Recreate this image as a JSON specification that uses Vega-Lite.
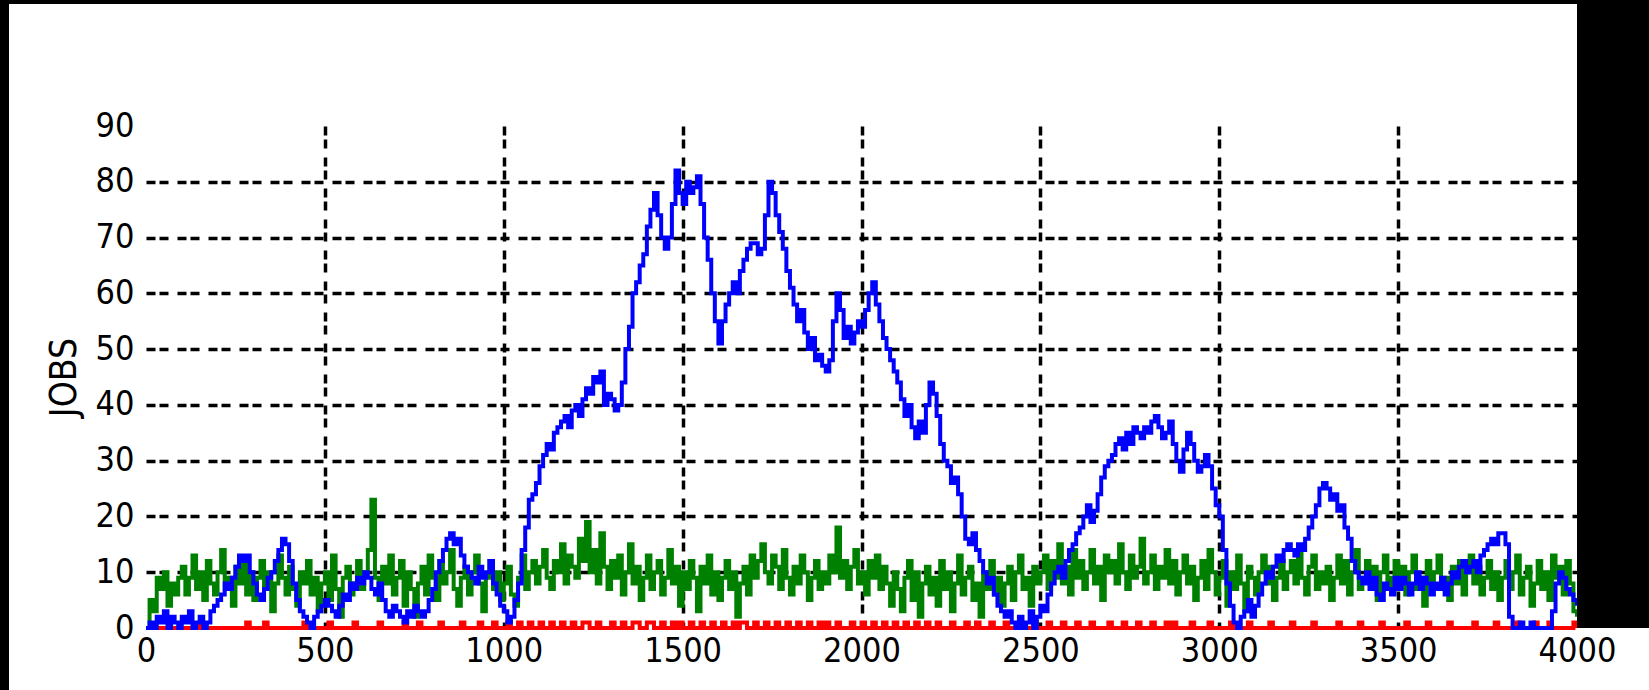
{
"$schema":"https://vega.github.io/schema/vega-lite/v6.json",
"width":1431,"height":502,
"autosize":"none",
"padding":{"left":146,"top":126,"right":72,"bottom":62},
"background":"white",
"config":{"view":{"stroke":null}},
"resolve":{"axis":{"x":"independent","y":"independent"}},
"data":{"values":[
{"t":0,"r":0,"g":0,"b":0},{"t":10,"r":0,"g":5,"b":1},{"t":20,"r":0,"g":3,"b":0},{"t":30,"r":0,"g":9,"b":2},{"t":40,"r":0,"g":7,"b":1},{"t":50,"r":0,"g":10,"b":3},{"t":60,"r":0,"g":4,"b":0},{"t":70,"r":0,"g":8,"b":2},{"t":80,"r":0,"g":6,"b":1},{"t":90,"r":0,"g":9,"b":0},
{"t":100,"r":0,"g":11,"b":2},{"t":110,"r":0,"g":6,"b":1},{"t":120,"r":0,"g":9,"b":3},{"t":130,"r":0,"g":13,"b":0},{"t":140,"r":0,"g":7,"b":1},{"t":150,"r":1,"g":10,"b":2},{"t":160,"r":0,"g":5,"b":0},{"t":170,"r":0,"g":12,"b":1},{"t":180,"r":0,"g":8,"b":3},{"t":190,"r":0,"g":6,"b":4},
{"t":200,"r":0,"g":10,"b":5},{"t":210,"r":0,"g":14,"b":6},{"t":220,"r":0,"g":7,"b":8},{"t":230,"r":0,"g":9,"b":7},{"t":240,"r":0,"g":4,"b":9},{"t":250,"r":0,"g":11,"b":11},{"t":260,"r":0,"g":8,"b":13},{"t":270,"r":0,"g":12,"b":12},{"t":280,"r":1,"g":6,"b":13},{"t":290,"r":0,"g":10,"b":10},
{"t":300,"r":0,"g":5,"b":8},{"t":310,"r":0,"g":9,"b":6},{"t":320,"r":0,"g":12,"b":5},{"t":330,"r":1,"g":7,"b":7},{"t":340,"r":0,"g":10,"b":9},{"t":350,"r":0,"g":3,"b":10},{"t":360,"r":0,"g":8,"b":12},{"t":370,"r":0,"g":13,"b":14},{"t":380,"r":0,"g":9,"b":16},{"t":390,"r":0,"g":6,"b":15},
{"t":400,"r":0,"g":11,"b":12},{"t":410,"r":0,"g":7,"b":8},{"t":420,"r":0,"g":4,"b":5},{"t":430,"r":0,"g":10,"b":3},{"t":440,"r":1,"g":8,"b":2},{"t":450,"r":0,"g":12,"b":1},{"t":460,"r":0,"g":6,"b":0},{"t":470,"r":0,"g":9,"b":2},{"t":480,"r":0,"g":3,"b":3},{"t":490,"r":0,"g":8,"b":4},
{"t":500,"r":0,"g":10,"b":5},{"t":510,"r":1,"g":5,"b":4},{"t":520,"r":0,"g":13,"b":3},{"t":530,"r":0,"g":7,"b":2},{"t":540,"r":0,"g":2,"b":4},{"t":550,"r":0,"g":9,"b":6},{"t":560,"r":0,"g":11,"b":5},{"t":570,"r":0,"g":6,"b":8},{"t":580,"r":1,"g":8,"b":7},{"t":590,"r":0,"g":12,"b":9},
{"t":600,"r":0,"g":7,"b":8},{"t":610,"r":0,"g":10,"b":10},{"t":620,"r":0,"g":14,"b":9},{"t":630,"r":0,"g":23,"b":7},{"t":640,"r":0,"g":9,"b":6},{"t":650,"r":1,"g":5,"b":8},{"t":660,"r":0,"g":11,"b":5},{"t":670,"r":0,"g":8,"b":3},{"t":680,"r":0,"g":13,"b":2},{"t":690,"r":0,"g":6,"b":4},
{"t":700,"r":0,"g":9,"b":3},{"t":710,"r":0,"g":12,"b":2},{"t":720,"r":1,"g":4,"b":1},{"t":730,"r":0,"g":10,"b":3},{"t":740,"r":0,"g":7,"b":2},{"t":750,"r":0,"g":2,"b":4},{"t":760,"r":1,"g":8,"b":3},{"t":770,"r":0,"g":11,"b":2},{"t":780,"r":0,"g":6,"b":3},{"t":790,"r":0,"g":13,"b":5},
{"t":800,"r":0,"g":9,"b":7},{"t":810,"r":0,"g":5,"b":10},{"t":820,"r":1,"g":12,"b":12},{"t":830,"r":0,"g":8,"b":14},{"t":840,"r":0,"g":10,"b":16},{"t":850,"r":0,"g":14,"b":17},{"t":860,"r":0,"g":7,"b":15},{"t":870,"r":0,"g":4,"b":16},{"t":880,"r":1,"g":9,"b":13},{"t":890,"r":0,"g":11,"b":11},
{"t":900,"r":0,"g":6,"b":10},{"t":910,"r":0,"g":10,"b":9},{"t":920,"r":0,"g":13,"b":8},{"t":930,"r":1,"g":8,"b":11},{"t":940,"r":0,"g":3,"b":9},{"t":950,"r":0,"g":9,"b":10},{"t":960,"r":0,"g":12,"b":12},{"t":970,"r":1,"g":7,"b":8},{"t":980,"r":0,"g":10,"b":6},{"t":990,"r":0,"g":5,"b":4},
{"t":1000,"r":0,"g":8,"b":3},{"t":1010,"r":1,"g":11,"b":1},{"t":1020,"r":0,"g":6,"b":2},{"t":1030,"r":0,"g":4,"b":5},{"t":1040,"r":1,"g":9,"b":8},{"t":1050,"r":0,"g":13,"b":14},{"t":1060,"r":0,"g":7,"b":18},{"t":1070,"r":1,"g":10,"b":23},{"t":1080,"r":0,"g":12,"b":24},{"t":1090,"r":0,"g":8,"b":26},
{"t":1100,"r":1,"g":11,"b":29},{"t":1110,"r":0,"g":14,"b":31},{"t":1120,"r":0,"g":9,"b":33},{"t":1130,"r":1,"g":7,"b":32},{"t":1140,"r":0,"g":12,"b":35},{"t":1150,"r":0,"g":10,"b":36},{"t":1160,"r":1,"g":15,"b":37},{"t":1170,"r":0,"g":8,"b":38},{"t":1180,"r":0,"g":13,"b":36},{"t":1190,"r":1,"g":11,"b":39},
{"t":1200,"r":0,"g":9,"b":40},{"t":1210,"r":0,"g":16,"b":38},{"t":1220,"r":1,"g":12,"b":41},{"t":1230,"r":1,"g":19,"b":43},{"t":1240,"r":0,"g":10,"b":42},{"t":1250,"r":0,"g":14,"b":45},{"t":1260,"r":1,"g":8,"b":44},{"t":1270,"r":0,"g":17,"b":46},{"t":1280,"r":0,"g":11,"b":40},{"t":1290,"r":0,"g":7,"b":42},
{"t":1300,"r":1,"g":12,"b":41},{"t":1310,"r":0,"g":9,"b":39},{"t":1320,"r":0,"g":13,"b":40},{"t":1330,"r":1,"g":6,"b":44},{"t":1340,"r":0,"g":10,"b":50},{"t":1350,"r":0,"g":15,"b":54},{"t":1360,"r":1,"g":8,"b":60},{"t":1370,"r":1,"g":11,"b":62},{"t":1380,"r":0,"g":5,"b":65},{"t":1390,"r":0,"g":9,"b":67},
{"t":1400,"r":1,"g":13,"b":72},{"t":1410,"r":1,"g":7,"b":75},{"t":1420,"r":0,"g":10,"b":78},{"t":1430,"r":0,"g":12,"b":74},{"t":1440,"r":1,"g":6,"b":70},{"t":1450,"r":0,"g":9,"b":68},{"t":1460,"r":0,"g":14,"b":70},{"t":1470,"r":1,"g":8,"b":76},{"t":1480,"r":0,"g":11,"b":82},{"t":1490,"r":1,"g":4,"b":78},
{"t":1500,"r":0,"g":10,"b":76},{"t":1510,"r":0,"g":7,"b":80},{"t":1520,"r":1,"g":12,"b":78},{"t":1530,"r":0,"g":9,"b":79},{"t":1540,"r":0,"g":3,"b":81},{"t":1550,"r":1,"g":11,"b":76},{"t":1560,"r":0,"g":8,"b":70},{"t":1570,"r":0,"g":13,"b":66},{"t":1580,"r":1,"g":6,"b":60},{"t":1590,"r":0,"g":10,"b":55},
{"t":1600,"r":0,"g":5,"b":51},{"t":1610,"r":1,"g":9,"b":55},{"t":1620,"r":0,"g":12,"b":58},{"t":1630,"r":0,"g":7,"b":60},{"t":1640,"r":1,"g":10,"b":62},{"t":1650,"r":0,"g":2,"b":60},{"t":1660,"r":1,"g":8,"b":64},{"t":1670,"r":1,"g":11,"b":66},{"t":1680,"r":0,"g":6,"b":68},{"t":1690,"r":0,"g":13,"b":69},
{"t":1700,"r":1,"g":9,"b":69},{"t":1710,"r":0,"g":12,"b":67},{"t":1720,"r":0,"g":15,"b":68},{"t":1730,"r":1,"g":10,"b":74},{"t":1740,"r":0,"g":8,"b":80},{"t":1750,"r":0,"g":13,"b":78},{"t":1760,"r":1,"g":11,"b":74},{"t":1770,"r":0,"g":7,"b":71},{"t":1780,"r":0,"g":14,"b":68},{"t":1790,"r":1,"g":9,"b":64},
{"t":1800,"r":0,"g":6,"b":61},{"t":1810,"r":0,"g":11,"b":58},{"t":1820,"r":1,"g":8,"b":55},{"t":1830,"r":0,"g":13,"b":57},{"t":1840,"r":0,"g":10,"b":53},{"t":1850,"r":1,"g":5,"b":50},{"t":1860,"r":0,"g":9,"b":52},{"t":1870,"r":0,"g":12,"b":48},{"t":1880,"r":1,"g":7,"b":49},{"t":1890,"r":0,"g":10,"b":47},
{"t":1900,"r":1,"g":8,"b":46},{"t":1910,"r":0,"g":13,"b":48},{"t":1920,"r":0,"g":10,"b":55},{"t":1930,"r":1,"g":18,"b":60},{"t":1940,"r":0,"g":9,"b":57},{"t":1950,"r":0,"g":12,"b":52},{"t":1960,"r":0,"g":7,"b":54},{"t":1970,"r":1,"g":11,"b":51},{"t":1980,"r":0,"g":14,"b":53},{"t":1990,"r":0,"g":8,"b":55},
{"t":2000,"r":1,"g":10,"b":54},{"t":2010,"r":0,"g":6,"b":57},{"t":2020,"r":0,"g":12,"b":60},{"t":2030,"r":1,"g":9,"b":62},{"t":2040,"r":0,"g":13,"b":58},{"t":2050,"r":0,"g":7,"b":55},{"t":2060,"r":1,"g":11,"b":52},{"t":2070,"r":0,"g":8,"b":50},{"t":2080,"r":0,"g":4,"b":48},{"t":2090,"r":1,"g":10,"b":46},
{"t":2100,"r":0,"g":7,"b":44},{"t":2110,"r":0,"g":3,"b":41},{"t":2120,"r":1,"g":9,"b":38},{"t":2130,"r":0,"g":12,"b":40},{"t":2140,"r":0,"g":5,"b":36},{"t":2150,"r":1,"g":10,"b":34},{"t":2160,"r":0,"g":2,"b":37},{"t":2170,"r":0,"g":8,"b":35},{"t":2180,"r":1,"g":11,"b":40},{"t":2190,"r":0,"g":6,"b":44},
{"t":2200,"r":0,"g":9,"b":42},{"t":2210,"r":1,"g":4,"b":38},{"t":2220,"r":0,"g":12,"b":33},{"t":2230,"r":0,"g":7,"b":30},{"t":2240,"r":0,"g":10,"b":29},{"t":2250,"r":1,"g":3,"b":26},{"t":2260,"r":0,"g":8,"b":27},{"t":2270,"r":0,"g":13,"b":24},{"t":2280,"r":0,"g":6,"b":20},{"t":2290,"r":1,"g":9,"b":16},
{"t":2300,"r":0,"g":11,"b":15},{"t":2310,"r":0,"g":5,"b":17},{"t":2320,"r":1,"g":8,"b":14},{"t":2330,"r":0,"g":2,"b":12},{"t":2340,"r":0,"g":10,"b":10},{"t":2350,"r":0,"g":7,"b":8},{"t":2360,"r":1,"g":12,"b":9},{"t":2370,"r":0,"g":6,"b":6},{"t":2380,"r":0,"g":9,"b":4},{"t":2390,"r":0,"g":4,"b":3},
{"t":2400,"r":1,"g":8,"b":2},{"t":2410,"r":0,"g":11,"b":3},{"t":2420,"r":0,"g":5,"b":1},{"t":2430,"r":0,"g":10,"b":0},{"t":2440,"r":1,"g":13,"b":2},{"t":2450,"r":0,"g":7,"b":0},{"t":2460,"r":0,"g":9,"b":1},{"t":2470,"r":0,"g":4,"b":3},{"t":2480,"r":1,"g":11,"b":0},{"t":2490,"r":0,"g":8,"b":2},
{"t":2500,"r":0,"g":10,"b":4},{"t":2510,"r":0,"g":13,"b":3},{"t":2520,"r":1,"g":7,"b":6},{"t":2530,"r":0,"g":12,"b":8},{"t":2540,"r":0,"g":9,"b":10},{"t":2550,"r":0,"g":15,"b":11},{"t":2560,"r":1,"g":8,"b":9},{"t":2570,"r":0,"g":11,"b":12},{"t":2580,"r":0,"g":6,"b":14},{"t":2590,"r":0,"g":14,"b":15},
{"t":2600,"r":1,"g":9,"b":17},{"t":2610,"r":0,"g":12,"b":18},{"t":2620,"r":0,"g":7,"b":20},{"t":2630,"r":0,"g":10,"b":22},{"t":2640,"r":1,"g":14,"b":19},{"t":2650,"r":0,"g":8,"b":21},{"t":2660,"r":0,"g":11,"b":24},{"t":2670,"r":0,"g":5,"b":27},{"t":2680,"r":0,"g":13,"b":29},{"t":2690,"r":1,"g":10,"b":30},
{"t":2700,"r":0,"g":12,"b":31},{"t":2710,"r":0,"g":8,"b":33},{"t":2720,"r":0,"g":15,"b":34},{"t":2730,"r":1,"g":10,"b":32},{"t":2740,"r":0,"g":7,"b":35},{"t":2750,"r":0,"g":13,"b":33},{"t":2760,"r":0,"g":9,"b":36},{"t":2770,"r":1,"g":11,"b":35},{"t":2780,"r":0,"g":16,"b":34},{"t":2790,"r":0,"g":8,"b":36},
{"t":2800,"r":0,"g":10,"b":35},{"t":2810,"r":1,"g":13,"b":37},{"t":2820,"r":0,"g":7,"b":38},{"t":2830,"r":0,"g":11,"b":36},{"t":2840,"r":0,"g":9,"b":34},{"t":2850,"r":1,"g":14,"b":35},{"t":2860,"r":0,"g":8,"b":37},{"t":2870,"r":1,"g":12,"b":33},{"t":2880,"r":0,"g":6,"b":30},{"t":2890,"r":0,"g":10,"b":28},
{"t":2900,"r":0,"g":13,"b":32},{"t":2910,"r":0,"g":8,"b":35},{"t":2920,"r":1,"g":11,"b":33},{"t":2930,"r":0,"g":5,"b":30},{"t":2940,"r":0,"g":9,"b":28},{"t":2950,"r":0,"g":12,"b":29},{"t":2960,"r":0,"g":7,"b":31},{"t":2970,"r":1,"g":14,"b":29},{"t":2980,"r":0,"g":10,"b":25},{"t":2990,"r":0,"g":6,"b":22},
{"t":3000,"r":0,"g":9,"b":20},{"t":3010,"r":0,"g":12,"b":14},{"t":3020,"r":0,"g":4,"b":8},{"t":3030,"r":1,"g":10,"b":4},{"t":3040,"r":0,"g":7,"b":1},{"t":3050,"r":0,"g":13,"b":0},{"t":3060,"r":0,"g":8,"b":2},{"t":3070,"r":0,"g":3,"b":3},{"t":3080,"r":1,"g":11,"b":5},{"t":3090,"r":0,"g":9,"b":2},
{"t":3100,"r":0,"g":6,"b":4},{"t":3110,"r":0,"g":10,"b":6},{"t":3120,"r":0,"g":13,"b":8},{"t":3130,"r":0,"g":8,"b":10},{"t":3140,"r":1,"g":11,"b":9},{"t":3150,"r":0,"g":5,"b":11},{"t":3160,"r":0,"g":9,"b":13},{"t":3170,"r":0,"g":12,"b":12},{"t":3180,"r":0,"g":7,"b":14},{"t":3190,"r":0,"g":10,"b":15},
{"t":3200,"r":1,"g":12,"b":14},{"t":3210,"r":0,"g":8,"b":13},{"t":3220,"r":0,"g":14,"b":15},{"t":3230,"r":0,"g":9,"b":14},{"t":3240,"r":0,"g":6,"b":16},{"t":3250,"r":0,"g":11,"b":18},{"t":3260,"r":1,"g":13,"b":20},{"t":3270,"r":0,"g":7,"b":22},{"t":3280,"r":0,"g":10,"b":25},{"t":3290,"r":0,"g":8,"b":26},
{"t":3300,"r":0,"g":11,"b":25},{"t":3310,"r":0,"g":5,"b":23},{"t":3320,"r":0,"g":9,"b":24},{"t":3330,"r":1,"g":13,"b":21},{"t":3340,"r":0,"g":8,"b":22},{"t":3350,"r":0,"g":12,"b":18},{"t":3360,"r":0,"g":6,"b":16},{"t":3370,"r":0,"g":10,"b":12},{"t":3380,"r":0,"g":14,"b":10},{"t":3390,"r":1,"g":7,"b":9},
{"t":3400,"r":0,"g":9,"b":8},{"t":3410,"r":0,"g":12,"b":10},{"t":3420,"r":0,"g":8,"b":7},{"t":3430,"r":0,"g":11,"b":9},{"t":3440,"r":0,"g":5,"b":6},{"t":3450,"r":1,"g":10,"b":5},{"t":3460,"r":0,"g":13,"b":8},{"t":3470,"r":0,"g":7,"b":7},{"t":3480,"r":0,"g":9,"b":6},{"t":3490,"r":0,"g":12,"b":9},
{"t":3500,"r":0,"g":8,"b":7},{"t":3510,"r":0,"g":11,"b":9},{"t":3520,"r":1,"g":6,"b":8},{"t":3530,"r":0,"g":10,"b":6},{"t":3540,"r":0,"g":13,"b":8},{"t":3550,"r":0,"g":7,"b":10},{"t":3560,"r":0,"g":9,"b":7},{"t":3570,"r":0,"g":4,"b":9},{"t":3580,"r":1,"g":12,"b":8},{"t":3590,"r":0,"g":8,"b":6},
{"t":3600,"r":0,"g":10,"b":8},{"t":3610,"r":0,"g":13,"b":7},{"t":3620,"r":0,"g":7,"b":9},{"t":3630,"r":0,"g":9,"b":6},{"t":3640,"r":1,"g":5,"b":8},{"t":3650,"r":0,"g":11,"b":10},{"t":3660,"r":0,"g":8,"b":9},{"t":3670,"r":0,"g":12,"b":11},{"t":3680,"r":0,"g":6,"b":12},{"t":3690,"r":0,"g":10,"b":10},
{"t":3700,"r":0,"g":13,"b":11},{"t":3710,"r":1,"g":8,"b":12},{"t":3720,"r":0,"g":11,"b":10},{"t":3730,"r":0,"g":6,"b":13},{"t":3740,"r":0,"g":9,"b":14},{"t":3750,"r":0,"g":12,"b":15},{"t":3760,"r":0,"g":7,"b":16},{"t":3770,"r":1,"g":10,"b":15},{"t":3780,"r":0,"g":5,"b":17},{"t":3790,"r":0,"g":9,"b":17},
{"t":3800,"r":0,"g":12,"b":15},{"t":3810,"r":0,"g":7,"b":2},{"t":3820,"r":0,"g":10,"b":0},{"t":3830,"r":1,"g":13,"b":0},{"t":3840,"r":0,"g":6,"b":1},{"t":3850,"r":0,"g":9,"b":0},{"t":3860,"r":0,"g":11,"b":0},{"t":3870,"r":0,"g":4,"b":1},{"t":3880,"r":1,"g":8,"b":0},{"t":3890,"r":0,"g":12,"b":0},
{"t":3900,"r":0,"g":7,"b":0},{"t":3910,"r":0,"g":10,"b":0},{"t":3920,"r":1,"g":5,"b":0},{"t":3930,"r":0,"g":13,"b":3},{"t":3940,"r":0,"g":9,"b":8},{"t":3950,"r":0,"g":11,"b":10},{"t":3960,"r":0,"g":6,"b":9},{"t":3970,"r":0,"g":12,"b":7},{"t":3980,"r":0,"g":8,"b":6},{"t":3990,"r":1,"g":3,"b":5},
{"t":4000,"r":0,"g":2,"b":4}
]},
"layer":[
{
"transform":[{"fold":["r","g","b"],"as":["series","jobs"]}],
"mark":{"type":"line","interpolate":"step-after","strokeWidth":4,"strokeJoin":"miter","clip":false},
"encoding":{
"x":{"field":"t","type":"quantitative",
"scale":{"domain":[0,4000],"nice":false,"zero":false},
"axis":{"values":[0,500,1000,1500,2000,2500,3000,3500,4000],"format":"d","title":null,"domain":false,"ticks":false,
"labelFont":"Liberation Sans Narrow, DejaVu Sans Condensed, sans-serif","labelFontSize":34,"labelColor":"black","labelPadding":6,"labelFlush":false,"labelOverlap":false,
"grid":true,"gridColor":"black","gridWidth":3.5,"gridDash":[9,4,9,9],
"gridOpacity":{"condition":{"test":"datum.value === 0 || datum.value === 4000","value":0},"value":1}}},
"y":{"field":"jobs","type":"quantitative",
"scale":{"domain":[0,90],"nice":false,"zero":false},
"axis":{"values":[0,10,20,30,40,50,60,70,80,90],"format":"d","title":"JOBS","domain":false,"ticks":false,
"labelFont":"Liberation Sans Narrow, DejaVu Sans Condensed, sans-serif","labelFontSize":34,"labelColor":"black","labelPadding":12,
"titleFont":"Liberation Sans Narrow, DejaVu Sans Condensed, sans-serif","titleFontSize":37,"titleFontWeight":"normal","titleColor":"black","titlePadding":12,
"grid":true,"gridColor":"black","gridWidth":3.5,"gridDash":[9,4,9,9],
"gridOpacity":{"condition":{"test":"datum.value === 0 || datum.value === 90","value":0},"value":1}}},
"color":{"field":"series","type":"nominal","scale":{"domain":["r","g","b"],"range":["#ff0000","#008000","#0000ff"]},"legend":null}
}
},
{
"mark":{"type":"rect","color":"black","clip":false},
"encoding":{"x":{"datum":4000,"type":"quantitative","axis":null},"x2":{"datum":4400},"y":{"datum":0,"type":"quantitative","axis":null},"y2":{"datum":130}}
},
{
"mark":{"type":"rect","color":"black","clip":false},
"encoding":{"x":{"datum":-500,"type":"quantitative","axis":null},"x2":{"datum":4400},"y":{"datum":111.9,"type":"quantitative","axis":null},"y2":{"datum":130}}
},
{
"mark":{"type":"rect","color":"black","clip":false},
"encoding":{"x":{"datum":-500,"type":"quantitative","axis":null},"x2":{"datum":-383},"y":{"datum":-20,"type":"quantitative","axis":null},"y2":{"datum":130}}
}
]
}
